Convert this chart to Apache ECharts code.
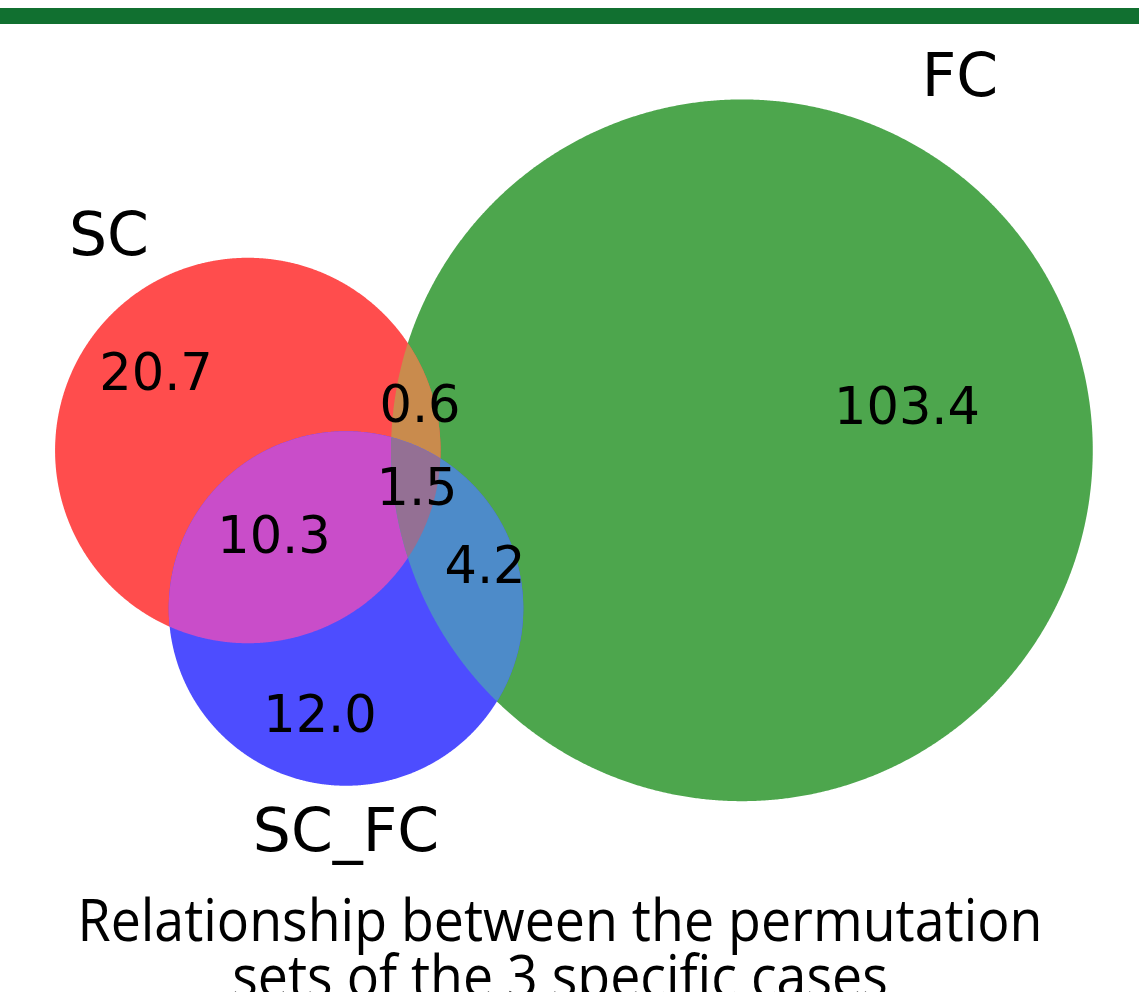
<!DOCTYPE html>
<html>
<head>
<meta charset="utf-8">
<title>Venn</title>
<script src="https://cdn.jsdelivr.net/npm/echarts@6/dist/echarts.min.js"></script>
<style>
  html, body { margin: 0; padding: 0; background: #fff; }
  #main { width: 1139px; height: 992px; }
</style>
</head>
<body>
<div id="main"></div>
<script>
// sets: SC, SC_FC, FC
const setNames = ["SC", "SC_FC", "FC"];
// region values, keyed by which sets they belong to (1 = in set)
const regionKeys = ["100", "010", "001", "110", "101", "011", "111"];
const regionValues = [20.7, 12.0, 103.4, 10.3, 0.6, 4.2, 1.5];
// circle centres in layout units (radius = sqrt of set total)
const centerX = [7.397, 10.328, 22.146];
const centerY = [16.164, 11.448, 16.17];
// where each region label sits
const regionLabelX = [4.657, 9.552, 27.075, 8.179, 12.537, 14.478, 12.448];
const regionLabelY = [18.357, 8.149, 17.343, 13.492, 17.402, 12.596, 14.925];
const setLabelX = [3.254, 10.328, 28.657];
const setLabelY = [22.477, 4.686, 27.223];
const titleLines = ["Relationship between the permutation", "sets of the 3 specific cases"];

// matplotlib_venn style colours (r, g, b at alpha 0.7)
const regionColors = {
  "100": "#ff4d4d", "010": "#4d4dff", "001": "#4da64d",
  "110": "#c94dc9", "101": "#c98b4d", "011": "#4d8bc9", "111": "#947094"
};

// set totals -> radii
let totals = [0, 0, 0];
regionKeys.forEach((k, i) => {
  for (let s = 0; s < 3; s++) {
    if (k[s] === "1") totals[s] += regionValues[i];
  }
});
let radius = totals.map((t) => Math.sqrt(t));

// draw full circles first, then overlaps on top
let drawKeys = ["001", "100", "010", "101", "110", "011", "111"];

function insideAll(x, y, sets, skip) {
  for (let s of sets) {
    if (s === skip) continue;
    let dx = x - centerX[s], dy = y - centerY[s];
    if (dx * dx + dy * dy > radius[s] * radius[s] + 1e-9) return false;
  }
  return true;
}

function regionPoints(key) {
  let sets = [];
  for (let s = 0; s < 3; s++) if (key[s] === "1") sets.push(s);
  let pts = [];
  const N = 1440;
  sets.forEach((s) => {
    for (let i = 0; i < N; i++) {
      let a = (i / N) * Math.PI * 2;
      let x = centerX[s] + radius[s] * Math.cos(a);
      let y = centerY[s] + radius[s] * Math.sin(a);
      if (insideAll(x, y, sets, s)) pts.push([x, y]);
    }
  });
  if (sets.length === 1) return pts;
  // intersection of discs is convex: sort around the mean
  let mx = 0, my = 0;
  pts.forEach((p) => { mx += p[0]; my += p[1]; });
  mx /= pts.length; my /= pts.length;
  pts.sort((p, q) => Math.atan2(p[1] - my, p[0] - mx) - Math.atan2(q[1] - my, q[0] - mx));
  return pts;
}

let shapes = drawKeys.map((k) => regionPoints(k));

let myChart = echarts.init(document.getElementById("main"));
myChart.setOption({
  animation: false,
  grid: { left: 0, right: 0, top: 0, bottom: 0 },
  xAxis: { type: "value", min: 0, max: 34, show: false },
  yAxis: { type: "value", min: 0, max: 29.612, show: false },
  graphic: [
    {
      type: "rect",
      shape: { x: 0, y: 8, width: 1139, height: 16 },
      style: { fill: "#117030" }
    },
    {
      type: "text",
      x: 560,
      y: 924,
      scaleX: 0.91,
      style: {
        text: titleLines[0],
        fontSize: 59,
        fontFamily: "Open Sans",
        fill: "#000",
        align: "center",
        verticalAlign: "middle"
      }
    },
    {
      type: "text",
      x: 560,
      y: 980,
      scaleX: 0.91,
      style: {
        text: titleLines[1],
        fontSize: 59,
        fontFamily: "Open Sans",
        fill: "#000",
        align: "center",
        verticalAlign: "middle"
      }
    }
  ],
  series: [
    {
      type: "custom",
      silent: true,
      data: drawKeys.map((k, i) => [i]),
      encode: { x: -1, y: -1 },
      renderItem: function (params, api) {
        let i = params.dataIndex;
        let pts = shapes[i].map((p) => api.coord(p));
        return {
          type: "polygon",
          shape: { points: pts },
          style: { fill: regionColors[drawKeys[i]], stroke: null }
        };
      }
    },
    {
      type: "scatter",
      silent: true,
      symbolSize: 0,
      itemStyle: { opacity: 1 },
      data: regionValues.map((v, i) => ({
        value: [regionLabelX[i], regionLabelY[i]],
        name: v.toFixed(1)
      })),
      label: {
        show: true,
        position: "inside",
        formatter: "{b}",
        color: "#000",
        fontFamily: "DejaVu Sans",
        fontSize: 51
      }
    },
    {
      type: "scatter",
      silent: true,
      symbolSize: 0,
      itemStyle: { opacity: 1 },
      data: setNames.map((n, i) => ({
        value: [setLabelX[i], setLabelY[i]],
        name: n
      })),
      label: {
        show: true,
        position: "inside",
        formatter: "{b}",
        color: "#000",
        fontFamily: "DejaVu Sans",
        fontSize: 60
      }
    }
  ]
});
window.addEventListener("resize", () => {
  myChart.resize();
});
</script>
</body>
</html>
